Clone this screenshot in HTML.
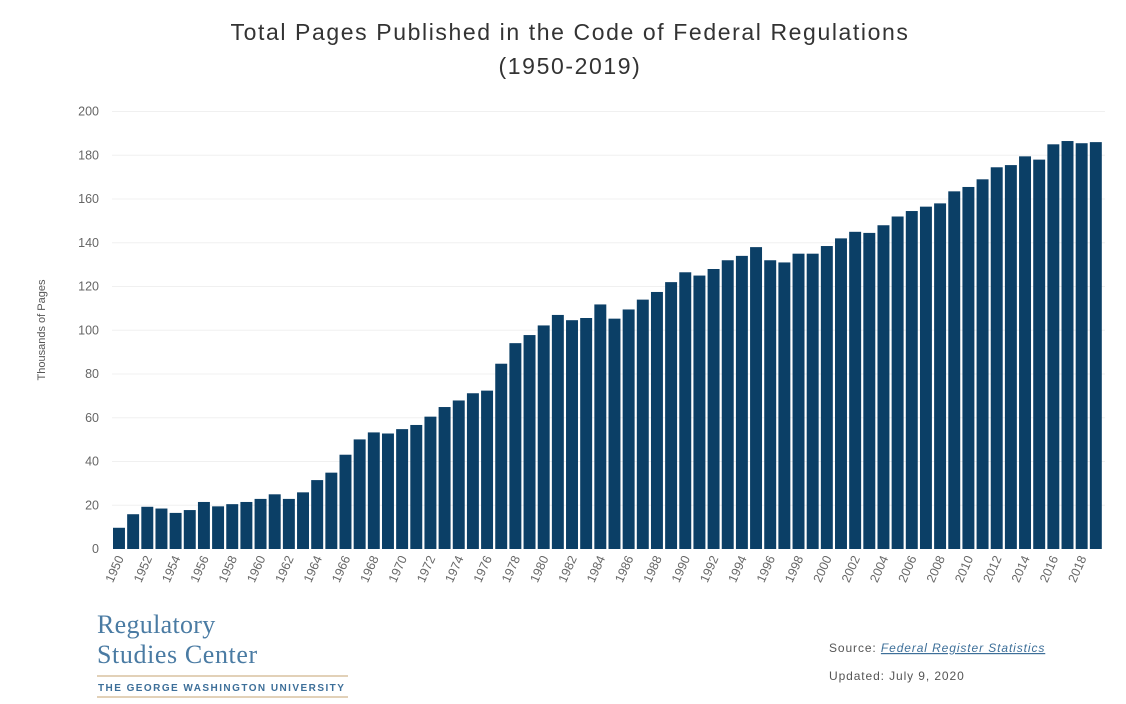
<!DOCTYPE html>
<html><head><meta charset="utf-8"><style>
body{margin:0;background:#fff;width:1126px;height:704px;overflow:hidden;font-family:"Liberation Sans",sans-serif}
svg{display:block}
</style></head><body>
<svg width="1126" height="704">
<text x="570" y="40" text-anchor="middle" font-size="23" fill="#333" letter-spacing="1.6">Total Pages Published in the Code of Federal Regulations</text>
<text x="570" y="74" text-anchor="middle" font-size="23" fill="#333" letter-spacing="1.6">(1950-2019)</text>
<text transform="translate(45,330) rotate(-90)" text-anchor="middle" font-size="11" fill="#555">Thousands of Pages</text>
<g id="grid"></g><g id="ylab"></g><g id="bars"></g><g id="xlab"></g>
<text x="97" y="633" font-family="Liberation Serif,serif" font-size="26" fill="#4a7ba3" letter-spacing="0.3">Regulatory</text>
<text x="97" y="663" font-family="Liberation Serif,serif" font-size="26" fill="#4a7ba3" letter-spacing="0.6">Studies Center</text>
<line x1="97" y1="676" x2="348" y2="676" stroke="#d9c2a0" stroke-width="1.5"/>
<text x="98" y="691" font-size="10" font-weight="bold" fill="#3d6f99" letter-spacing="1.45">THE GEORGE WASHINGTON UNIVERSITY</text>
<line x1="97" y1="697" x2="348" y2="697" stroke="#d9c2a0" stroke-width="1.5"/>
<text x="829" y="652" font-size="12" fill="#555" letter-spacing="0.9">Source: <tspan fill="#3d6f99" font-style="italic" text-decoration="underline">Federal Register Statistics</tspan></text>
<text x="829" y="680" font-size="12" fill="#555" letter-spacing="0.9">Updated: July 9, 2020</text>
</svg>
<script>
const years=[];for(let y=1950;y<=2019;y++)years.push(y);
const pages=[9.7,15.9,19.3,18.5,16.5,17.8,21.5,19.5,20.5,21.5,22.9,25.0,22.9,25.9,31.5,34.9,43.1,50.1,53.3,52.8,54.8,56.7,60.5,64.9,67.9,71.2,72.4,84.7,94.1,97.8,102.2,107,104.6,105.6,111.8,105.3,109.5,114,117.5,122,126.5,125,128,132,134,138,132,131,135,135,138.5,142,145,144.5,148,152,154.5,156.5,158,163.5,165.5,169,174.5,175.5,179.5,178,185,186.5,185.5,186];
const yTicks=[0,20,40,60,80,100,120,140,160,180,200];
const NS='http://www.w3.org/2000/svg';
const x0=112,x1=1103,y0=549,yTop=111.5;
const bw=(x1-x0)/years.length;
const ys=v=>y0-(v/200)*(y0-yTop);
const xs=i=>x0+i*bw;
function mk(t,a,p){const e=document.createElementNS(NS,t);for(const k in a)e.setAttribute(k,a[k]);p.appendChild(e);return e;}
const G=document.getElementById('grid'),YL=document.getElementById('ylab'),B=document.getElementById('bars'),XL=document.getElementById('xlab');
yTicks.forEach(t=>{
 if(t>0){const l=mk('line',{x1:x0,x2:1105,y1:ys(t),y2:ys(t),stroke:'#f0f0f0','stroke-width':1},G);
 
 }
 const tx=mk('text',{x:99,y:ys(t)+4,'text-anchor':'end','font-size':12.5,fill:'#666'},YL);
 tx.textContent=t;
 
 
});
pages.forEach((v,i)=>{
 const r=mk('rect',{x:xs(i)+1,y:ys(v),width:bw-2.2,height:y0-ys(v),fill:'#0b3f66'},B);
 
 
});
years.forEach((y,i)=>{
 if(i%2)return;
 const cx=xs(i)+bw/2+5,cy=y0+9;
 const t=mk('text',{x:cx,y:cy,'text-anchor':'end','font-size':12.5,fill:'#666',transform:`rotate(-66 ${cx} ${cy})`},XL);
 t.textContent=y;
 
 
});
</script>
</body></html>
